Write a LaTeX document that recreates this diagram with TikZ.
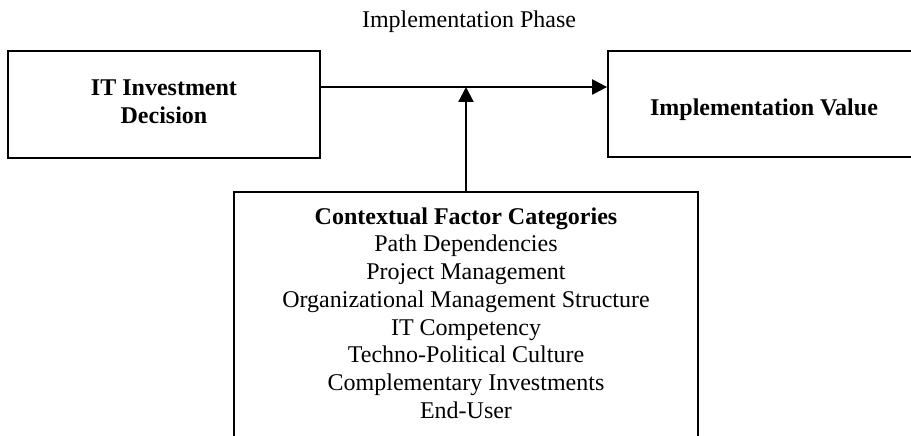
\documentclass[tikz,border=0pt]{standalone}
\usepackage{fontspec}
\setmainfont{Liberation Serif}
\usetikzlibrary{arrows.meta}
\begin{document}
\begin{tikzpicture}[x=1pt,y=-1pt,
  box/.style={draw,line width=1.8pt,rectangle,inner sep=0pt},
  txt/.style={font=\fontsize{24}{27.7}\selectfont,align=center,inner sep=0pt},
  arr/.style={line width=2.2pt,-{Triangle[length=15pt,width=15pt]}}]
\useasboundingbox (0,0) rectangle (911,436);
\clip (0,0) rectangle (911,436);
\fill[white] (0,0) rectangle (911,436);
% title
\node[txt,anchor=base] (title) at (469,28) {Implementation Phase};
% boxes
\node[box,minimum width=312pt,minimum height=107pt] (ld) at (164,104.5) {};
\node[txt,anchor=base] (ldt) at (164,123.7) {\textbf{IT Investment}\\\textbf{Decision}};
\node[box,minimum width=312pt,minimum height=106pt] (rv) at (764,104) {};
\node[txt,anchor=base] (rvt) at (764,115) {\textbf{Implementation Value}};
\node[box,minimum width=464pt,minimum height=300pt] (cf) at (466,342) {};
\node[txt,anchor=base] (cft) at (466,418.1) {\textbf{Contextual Factor Categories}\\
Path Dependencies\\
Project Management\\
Organizational Management Structure\\
IT Competency\\
Techno-Political Culture\\
Complementary Investments\\
End-User};
% connectors
\coordinate (hy) at (0,87);
\draw[arr] (ld.east |- hy) -- (rv.west |- hy);
\draw[arr] (cf.north) -- (cf.north |- hy);
\end{tikzpicture}
\end{document}
